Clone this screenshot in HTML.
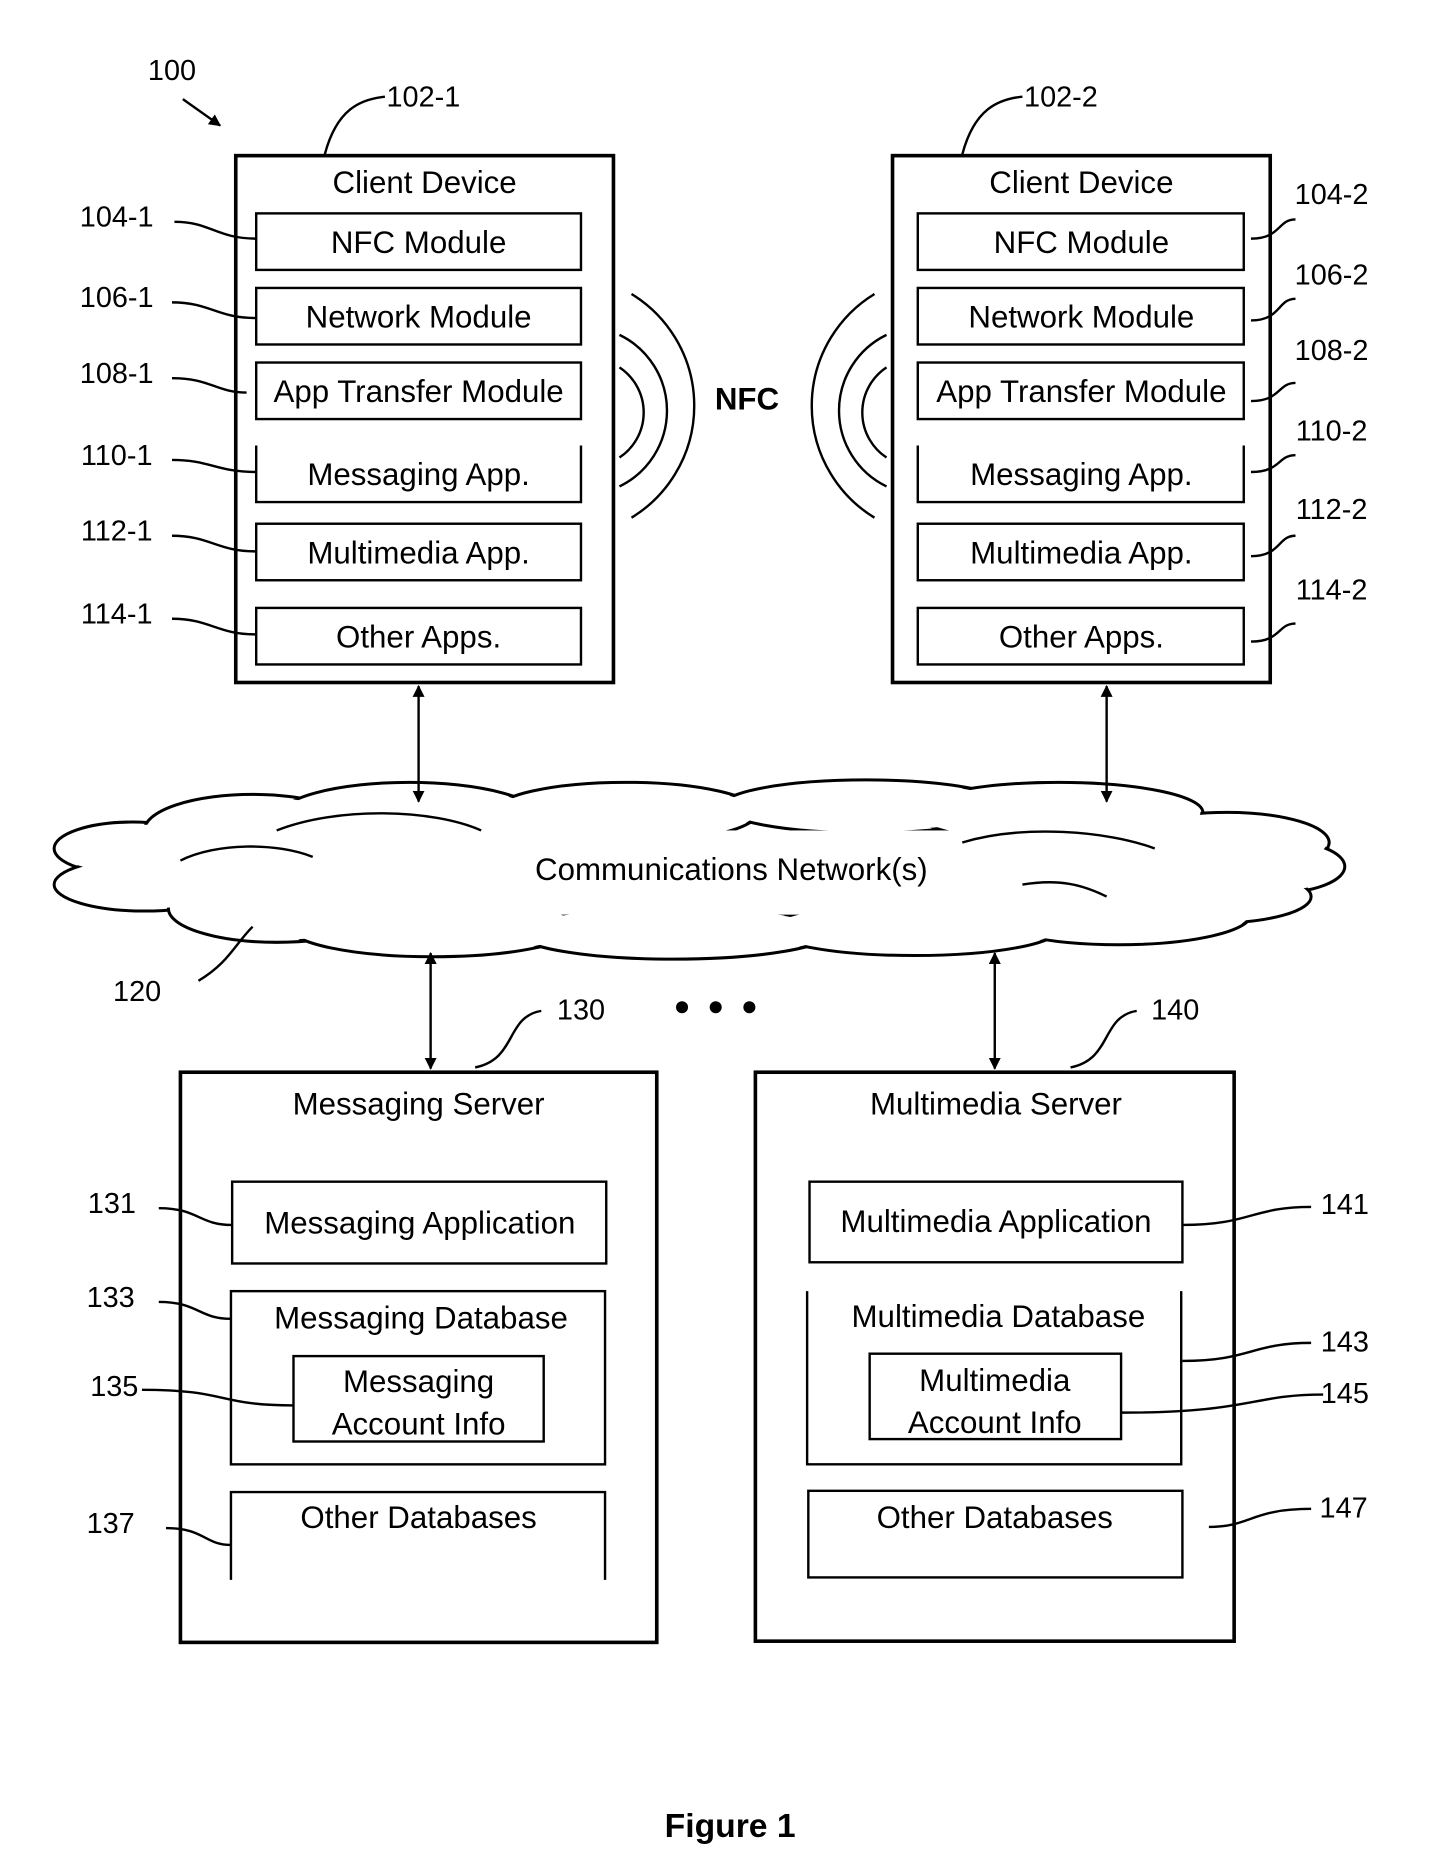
<!DOCTYPE html>
<html><head><meta charset="utf-8"><style>
html,body{margin:0;padding:0;background:#fff}
svg{display:block}
text{font-family:"Liberation Sans",Arial,sans-serif;fill:#000}
</style></head><body>
<svg width="1429" height="1875" viewBox="0 0 1188 1558" xmlns="http://www.w3.org/2000/svg">
<defs>
<marker id="ah" viewBox="0 0 10 10" refX="9" refY="5" markerWidth="5" markerHeight="5" orient="auto-start-reverse"><path d="M0,0 L10,5 L0,10 z" fill="#000"/></marker>
</defs>
<g fill="none" stroke="#000" stroke-width="3">
<rect x="196" y="129" width="314" height="438"/>
<rect x="742" y="129" width="314" height="438"/>
</g>
<g fill="none" stroke="#000" stroke-width="2">
<rect x="213" y="177" width="270" height="47"/>
<rect x="213" y="239" width="270" height="47"/>
<rect x="213" y="301" width="270" height="47"/>
<path d="M213,370 V417 H483 V370"/>
<rect x="213" y="435" width="270" height="47"/>
<rect x="213" y="505" width="270" height="47"/>
<rect x="763" y="177" width="271" height="47"/>
<rect x="763" y="239" width="271" height="47"/>
<rect x="763" y="301" width="271" height="47"/>
<path d="M763,370 V417 H1034 V370"/>
<rect x="763" y="435" width="271" height="47"/>
<rect x="763" y="505" width="271" height="47"/>
<path d="M145,184 C175,184 180,198 213,198"/>
<path d="M143,251 C175,251 180,264 213,264"/>
<path d="M143,314 C175,314 180,326 205,326"/>
<path d="M143,382 C175,382 180,392 213,392"/>
<path d="M143,445 C175,445 180,458 213,458"/>
<path d="M143,514 C175,514 180,527 213,527"/>
<path d="M270,128 C280,90 300,82 320,80"/>
<path d="M800,128 C810,90 830,82 850,80"/>
<path d="M1040,198 C1065,198 1062,182 1077,182"/>
<path d="M1040,266 C1065,266 1062,248 1077,248"/>
<path d="M1040,333 C1065,333 1062,318 1077,318"/>
<path d="M1040,392 C1065,392 1062,378 1077,378"/>
<path d="M1040,462 C1065,462 1062,445 1077,445"/>
<path d="M1040,533 C1065,533 1062,518 1077,518"/>
<path d="M515,305 A45,45 0 0 1 515,380"/>
<path d="M515,278 A70,70 0 0 1 515,404"/>
<path d="M525,244 A109,109 0 0 1 525,430"/>
<path d="M737,305 A45,45 0 0 0 737,380"/>
<path d="M737,278 A70,70 0 0 0 737,404"/>
<path d="M727,244 A109,109 0 0 0 727,430"/>
</g>
<g stroke="#000" stroke-width="2.5" fill="#fff">
<ellipse cx="110" cy="705" rx="65" ry="22"/>
<ellipse cx="120" cy="735" rx="75" ry="22"/>
<ellipse cx="210" cy="690" rx="90" ry="30"/>
<ellipse cx="230" cy="755" rx="90" ry="28"/>
<ellipse cx="340" cy="680" rx="110" ry="30"/>
<ellipse cx="360" cy="770" rx="120" ry="25"/>
<ellipse cx="520" cy="675" rx="110" ry="25"/>
<ellipse cx="560" cy="775" rx="130" ry="22"/>
<ellipse cx="720" cy="670" rx="120" ry="22"/>
<ellipse cx="760" cy="772" rx="120" ry="22"/>
<ellipse cx="880" cy="675" rx="120" ry="25"/>
<ellipse cx="930" cy="760" rx="110" ry="25"/>
<ellipse cx="1020" cy="700" rx="85" ry="25"/>
<ellipse cx="1060" cy="720" rx="58" ry="22"/>
<ellipse cx="1010" cy="745" rx="80" ry="22"/>
</g>
<g fill="#fff" stroke="none">
<ellipse cx="110" cy="705" rx="63" ry="20"/>
<ellipse cx="120" cy="735" rx="73" ry="20"/>
<ellipse cx="210" cy="690" rx="88" ry="28"/>
<ellipse cx="230" cy="755" rx="88" ry="26"/>
<ellipse cx="340" cy="680" rx="108" ry="28"/>
<ellipse cx="360" cy="770" rx="118" ry="23"/>
<ellipse cx="520" cy="675" rx="108" ry="23"/>
<ellipse cx="560" cy="775" rx="128" ry="20"/>
<ellipse cx="720" cy="670" rx="118" ry="20"/>
<ellipse cx="760" cy="772" rx="118" ry="20"/>
<ellipse cx="880" cy="675" rx="118" ry="23"/>
<ellipse cx="930" cy="760" rx="108" ry="23"/>
<ellipse cx="1020" cy="700" rx="83" ry="23"/>
<ellipse cx="1060" cy="720" rx="56" ry="20"/>
<ellipse cx="1010" cy="745" rx="78" ry="20"/>
<rect x="150" y="690" width="880" height="70"/>
</g>
<g fill="none" stroke="#000" stroke-width="2">
<path d="M150,715 C180,700 230,700 260,712"/>
<path d="M230,690 C280,670 360,672 400,690"/>
<path d="M800,700 C850,685 920,690 960,705"/>
<path d="M850,735 C880,730 900,735 920,745"/>
<path d="M165,815 C190,800 195,785 210,770"/>
<path d="M348,570 V666" marker-start="url(#ah)" marker-end="url(#ah)"/>
<path d="M920,570 V666" marker-start="url(#ah)" marker-end="url(#ah)"/>
<path d="M358,792 V888" marker-start="url(#ah)" marker-end="url(#ah)"/>
<path d="M827,792 V888" marker-start="url(#ah)" marker-end="url(#ah)"/>
<path d="M152,82 L183,104" marker-end="url(#ah)"/>
<path d="M395,887 C430,880 420,845 450,840"/>
<path d="M890,887 C925,880 915,845 945,840"/>
</g>
<g fill="none" stroke="#000" stroke-width="3">
<rect x="150" y="891" width="396" height="474"/>
<rect x="628" y="891" width="398" height="473"/>
</g>
<g fill="none" stroke="#000" stroke-width="2">
<rect x="193" y="982" width="311" height="68"/>
<rect x="192" y="1073" width="311" height="144"/>
<rect x="244" y="1127" width="208" height="71"/>
<path d="M192,1313 V1240 H503 V1313"/>
<rect x="673" y="982" width="310" height="67"/>
<path d="M982,1073 V1217 H671 V1073"/>
<rect x="723" y="1125" width="209" height="71"/>
<rect x="672" y="1239" width="311" height="72"/>
<path d="M132,1004 C165,1004 165,1018 193,1018"/>
<path d="M132,1082 C165,1082 165,1096 192,1096"/>
<path d="M118,1155 C190,1155 180,1168 244,1168"/>
<path d="M138,1270 C170,1270 170,1284 192,1284"/>
<path d="M983,1018 C1040,1018 1040,1003 1090,1003"/>
<path d="M983,1131 C1040,1131 1040,1116 1090,1116"/>
<path d="M932,1174 C1040,1174 1040,1159 1100,1159"/>
<path d="M1005,1269 C1040,1269 1040,1254 1090,1254"/>
</g>
<g fill="#000"><circle cx="567" cy="837" r="5"/><circle cx="595" cy="837" r="5"/><circle cx="623" cy="837" r="5"/></g>
<g font-size="26" text-anchor="middle">
<text x="353" y="160">Client Device</text>
<text x="348" y="210">NFC Module</text>
<text x="348" y="272">Network Module</text>
<text x="348" y="334">App Transfer Module</text>
<text x="348" y="403">Messaging App.</text>
<text x="348" y="468">Multimedia App.</text>
<text x="348" y="538">Other Apps.</text>
<text x="899" y="160">Client Device</text>
<text x="899" y="210">NFC Module</text>
<text x="899" y="272">Network Module</text>
<text x="899" y="334">App Transfer Module</text>
<text x="899" y="403">Messaging App.</text>
<text x="899" y="468">Multimedia App.</text>
<text x="899" y="538">Other Apps.</text>
<text x="608" y="731">Communications Network(s)</text>
<text x="348" y="926">Messaging Server</text>
<text x="349" y="1025">Messaging Application</text>
<text x="350" y="1104">Messaging Database</text>
<text x="348" y="1157">Messaging</text>
<text x="348" y="1192">Account Info</text>
<text x="348" y="1270">Other Databases</text>
<text x="828" y="926">Multimedia Server</text>
<text x="828" y="1024">Multimedia Application</text>
<text x="830" y="1103">Multimedia Database</text>
<text x="827" y="1156">Multimedia</text>
<text x="827" y="1191">Account Info</text>
<text x="827" y="1270">Other Databases</text>
<text x="621" y="340" font-weight="bold">NFC</text>
</g>
<g font-size="24" text-anchor="middle">
<text x="143" y="66">100</text>
<text x="352" y="88">102-1</text>
<text x="882" y="88">102-2</text>
<text x="97" y="188">104-1</text>
<text x="97" y="255">106-1</text>
<text x="97" y="318">108-1</text>
<text x="97" y="386">110-1</text>
<text x="97" y="449">112-1</text>
<text x="97" y="518">114-1</text>
<text x="1107" y="169">104-2</text>
<text x="1107" y="236">106-2</text>
<text x="1107" y="299">108-2</text>
<text x="1107" y="366">110-2</text>
<text x="1107" y="431">112-2</text>
<text x="1107" y="498">114-2</text>
<text x="114" y="832">120</text>
<text x="483" y="847">130</text>
<text x="977" y="847">140</text>
<text x="93" y="1008">131</text>
<text x="92" y="1086">133</text>
<text x="95" y="1160">135</text>
<text x="92" y="1274">137</text>
<text x="1118" y="1009">141</text>
<text x="1118" y="1123">143</text>
<text x="1118" y="1166">145</text>
<text x="1117" y="1261">147</text>
<text x="607" y="1527" font-size="28" font-weight="bold">Figure 1</text>
</g>
</svg>
</body></html>
